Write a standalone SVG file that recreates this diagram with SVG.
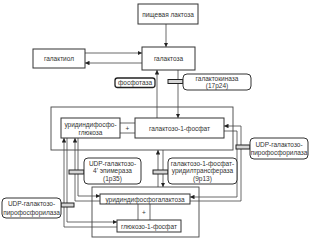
<svg xmlns="http://www.w3.org/2000/svg" width="309" height="239" viewBox="0 0 309 239">
<defs>
<marker id="ah" viewBox="0 0 6 6" refX="6" refY="3" markerWidth="4.5" markerHeight="4.5" markerUnits="userSpaceOnUse" orient="auto"><path d="M0,0 L6,3 L0,6 z" fill="#222"/></marker>
<style>
.b{fill:#fff;stroke:#333;stroke-width:1}
.g{fill:none;stroke:#444;stroke-width:0.9}
.r{fill:#fff;stroke:#333;stroke-width:1}
.bar{fill:#d6d6d6;stroke:#222;stroke-width:1}
.c{fill:none;stroke:#444;stroke-width:0.8}
.a{marker-end:url(#ah)}
text{font-family:"Liberation Sans",Arial,sans-serif;font-size:6.5px;fill:#333;text-anchor:middle}
</style>
</defs>
<rect width="309" height="239" fill="#fff"/>
<g id="groups">
<rect class="g" x="51" y="107" width="182" height="43"/>
<rect class="g" x="92" y="187" width="107" height="50"/>
</g>
<g id="connectors">
<path class="c a" d="M166,24 V47"/>
<path class="c a" d="M85,53 H142"/>
<path class="c a" d="M142,63 H85"/>
<path class="c a" d="M157,118 V70"/>
<path class="c a" d="M178,70 V118"/>
<path class="c" d="M120,123 H135 M120,133 H135"/>
<path class="c a" d="M190,201 H241 V126 H224"/>
<path class="c a" d="M224,131 H237 V197 H190"/>
<path class="c a" d="M158,187 V150"/>
<path class="c a" d="M163,150 V187"/>
<path class="c a" d="M100,201 H75 V138"/>
<path class="c a" d="M78,138 V196 H100"/>
<path class="c a" d="M117,227 H64 V138"/>
<path class="c a" d="M67,138 V222 H117"/>
<path class="c" d="M138,204 V220 M150,204 V220"/>
</g>
<g id="lactose"><rect class="b" x="138" y="4" width="60" height="20"/><text x="168" y="16.5">пищевая лактоза</text></g>
<g id="galactitol"><rect class="b" x="33" y="49" width="52" height="19"/><text x="59" y="60.5">галактиол</text></g>
<g id="galactose"><rect class="b" x="142" y="47" width="53" height="23"/><text x="168.5" y="60.5">галактоза</text></g>
<g id="phosphatase"><rect x="115" y="78" width="40" height="9.5" rx="2.5" fill="#fff" stroke="#222" stroke-width="1.3"/><text x="135" y="85">фосфотаза</text></g>
<g id="galactokinase"><rect class="bar" x="168" y="79.5" width="15" height="4"/><rect class="r" x="183" y="74" width="68" height="16" rx="4"/><text x="217" y="80.5">галактокиназа</text><text x="217" y="87.5">(17p24)</text></g>
<g id="udpglc"><rect class="b" x="61" y="118" width="59" height="20"/><text x="90.5" y="126.5">уридиндифосфо-</text><text x="90.5" y="134.5">глюкоза</text></g>
<g id="plus1"><text x="127.5" y="130.5">+</text></g>
<g id="gal1p"><rect class="b" x="135" y="118" width="89" height="20"/><text x="179.5" y="130.5">галактозо-1-фосфат</text></g>
<g id="udpgalpp-right"><rect class="bar" x="236" y="145" width="14" height="4"/><rect class="r" x="250" y="138" width="58" height="21" rx="4"/><text x="279" y="146.5">UDP-галактозо-</text><text x="279" y="155">пирофосфорилаза</text></g>
<g id="epimerase"><rect class="bar" x="69" y="170" width="15" height="4"/><rect class="r" x="84" y="158" width="57" height="26" rx="4"/><text x="112.5" y="165.5">UDP-галактозо-</text><text x="112.5" y="173">4' эпимераза</text><text x="112.5" y="180.5">(1p35)</text></g>
<g id="transferase"><rect class="bar" x="153" y="170" width="15" height="4"/><rect class="r" x="168" y="158" width="69" height="26" rx="4"/><text x="202.5" y="165.5">галактозо-1-фосфат-</text><text x="202.5" y="173">уридилтрансфераза</text><text x="202.5" y="180.5">(9p13)</text></g>
<g id="udpgalpp-left"><rect class="bar" x="61" y="203" width="13" height="4"/><rect class="r" x="2" y="198" width="59" height="20" rx="4"/><text x="31.5" y="206">UDP-галактозо-</text><text x="31.5" y="214.5">пирофосфорилаза</text></g>
<g id="udpgal"><rect class="b" x="100" y="194" width="90" height="10"/><text x="145" y="201.5">уридиндифосфогалактоза</text></g>
<g id="plus2"><text x="144" y="214.5">+</text></g>
<g id="glc1p"><rect class="b" x="117" y="220" width="64" height="12"/><text x="149" y="228.5">глюкозо-1-фосфат</text></g>
</svg>
